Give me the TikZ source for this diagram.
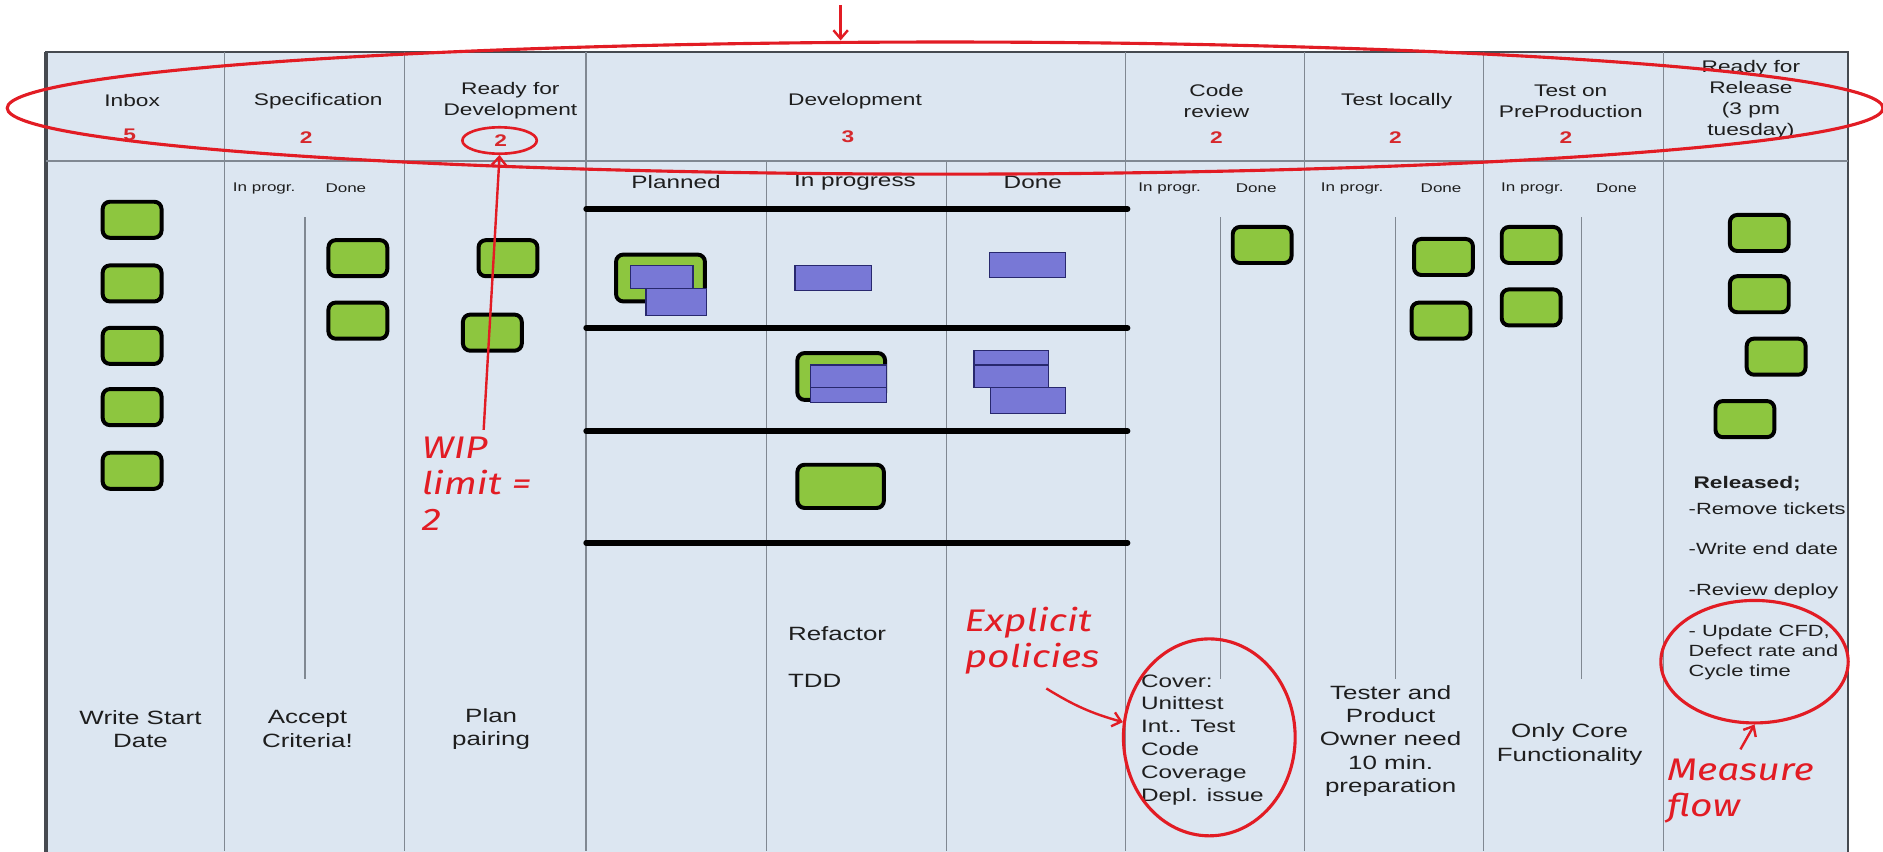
\documentclass[tikz,border=0pt]{standalone}
\usepackage{fontspec}
\setmainfont{Liberation Sans}[FakeStretch=1.35]
\newfontfamily\handfont{Fira Sans}[FakeStretch=1.25]
\usetikzlibrary{shapes.geometric,arrows.meta}
\definecolor{cardgreen}{RGB}{141,198,63}
\definecolor{stickyblue}{RGB}{120,120,214}
\definecolor{stickyedge}{RGB}{40,40,110}
\definecolor{boardblue}{RGB}{220,230,241}
\definecolor{boardedge}{RGB}{70,74,80}
\definecolor{gridgray}{RGB}{128,136,146}
\definecolor{notered}{RGB}{226,28,36}
\definecolor{wipred}{RGB}{214,40,44}
\definecolor{ink}{RGB}{30,30,30}
\tikzstyle{card}=[draw=black, line width=3.3pt, rounded corners=6pt, fill=cardgreen, minimum width=49pt, minimum height=30pt]
\tikzstyle{sticky}=[draw=stickyedge, line width=1pt, fill=stickyblue, inner sep=0pt]
\tikzstyle{grid}=[draw=gridgray, line width=1pt]
\tikzstyle{lane}=[draw=black, line width=4.5pt, line cap=round]
\tikzstyle{hdr}=[align=center, inner sep=0pt, text=ink, font=\fontsize{14}{17.5}\selectfont]
\tikzstyle{wip}=[inner sep=0pt, text=wipred, font=\fontsize{14}{16}\selectfont\bfseries]
\tikzstyle{sub}=[inner sep=0pt, text=ink, font=\fontsize{10.5}{13}\selectfont]
\tikzstyle{lanehdr}=[inner sep=0pt, text=ink, font=\fontsize{15}{17}\selectfont]
\tikzstyle{policy}=[align=center, inner sep=0pt, text=ink, font=\fontsize{16}{19.5}\selectfont]
\tikzstyle{release}=[align=left, inner sep=0pt, text=ink, font=\fontsize{13.5}{16.5}\selectfont]
\tikzstyle{hand}=[align=left, inner sep=0pt, text=notered, font=\handfont\itshape\fontsize{26}{30}\selectfont]
\tikzstyle{ring}=[ellipse, draw=notered, line width=2.6pt]
\tikzstyle{note}=[draw=notered, line width=2pt, -{Straight Barb[length=7pt,width=12pt]}]

\begin{document}
\begin{tikzpicture}[x=1pt,y=-1pt]
  \useasboundingbox (0,0) rectangle (1568,709);
  %% The board
  \draw[fill=boardblue, draw=boardedge, line width=1.5pt] (38,43) rectangle (1539,715);
  \draw[draw=boardedge, line width=3.5pt] (38,43) -- (38,715);
  \draw[grid] (38,134) -- (1539,134);

  \draw[grid] (187,43) -- (187,709);
  \draw[grid] (337,43) -- (337,709);
  \draw[grid] (488,43) -- (488,709);
  \draw[grid] (937,43) -- (937,709);
  \draw[grid] (1086,43) -- (1086,709);
  \draw[grid] (1235,43) -- (1235,709);
  \draw[grid] (1385,43) -- (1385,709);

  \draw[grid] (638,134) -- (638,709);
  \draw[grid] (788,134) -- (788,709);

  \draw[grid] (254,181) -- (254,565);
  \draw[grid] (1016,181) -- (1016,565);
  \draw[grid] (1162,181) -- (1162,565);
  \draw[grid] (1317,181) -- (1317,565);

  \draw[lane] (488,174) -- (939,174);
  \draw[lane] (488,273) -- (939,273);
  \draw[lane] (488,359) -- (939,359);
  \draw[lane] (488,452) -- (939,452);

  %% Column headers
  \draw (110,84) node[hdr] (hInbox) {Inbox};
  \draw (265,84) node[hdr] (hSpec) {Specification};
  \draw (425,84) node[hdr] (hReady) {Ready for\\Development};
  \draw (712,84) node[hdr] (hDev) {Development};
  \draw (1013,84) node[hdr] (hCode) {Code\\review};
  \draw (1163,84) node[hdr] (hTest) {Test locally};
  \draw (1308,84) node[hdr] (hPre) {Test on\\PreProduction};
  \draw (1458,83) node[hdr] (hRel) {Ready for\\Release\\(3 pm\\tuesday)};

  \draw (108,112) node[wip] (nInbox) {5};
  \draw (255,115) node[wip] (nSpec) {2};
  \draw (417,117) node[wip] (nReady) {2};
  \draw (706,114) node[wip] (nDev) {3};
  \draw (1013,115) node[wip] (nCode) {2};
  \draw (1162,115) node[wip] (nTest) {2};
  \draw (1304,115) node[wip] (nPre) {2};

  \draw (220,157) node[sub] (sSpecA) {In progr.};
  \draw (288,157) node[sub] (sSpecB) {Done};
  \draw (974,157) node[sub] (sCodeA) {In progr.};
  \draw (1046,157) node[sub] (sCodeB) {Done};
  \draw (1126,157) node[sub] (sTestA) {In progr.};
  \draw (1200,157) node[sub] (sTestB) {Done};
  \draw (1276,157) node[sub] (sPreA) {In progr.};
  \draw (1346,157) node[sub] (sPreB) {Done};

  \draw (563,152) node[lanehdr] (lPlan) {Planned};
  \draw (712,152) node[lanehdr] (lProg) {In progress};
  \draw (860,152) node[lanehdr] (lDone) {Done};

  %% Tickets
  \draw (110,183) node[card] (I1) {};
  \draw (110,236) node[card] (I2) {};
  \draw (110,288) node[card] (I3) {};
  \draw (110,339) node[card] (I4) {};
  \draw (110,392) node[card] (I5) {};

  \draw (298,215) node[card] (S1) {};
  \draw (298,267) node[card] (S2) {};

  \draw (423,215) node[card] (R1) {};
  \draw (410,277) node[card] (R2) {};

  \draw (550,231.5) node[card, minimum width=74pt, minimum height=39pt] (D11) {};
  \draw (551,230.5) node[sticky, minimum width=52pt, minimum height=19pt] (D11a) {};
  \draw (563,251.5) node[sticky, minimum width=50pt, minimum height=23pt] (D11b) {};
  \draw (694,231.5) node[sticky, minimum width=64pt, minimum height=21pt] (D12) {};
  \draw (855.5,220.5) node[sticky, minimum width=63pt, minimum height=21pt] (D13) {};

  \draw (700.5,313.5) node[card, minimum width=73pt, minimum height=39pt] (D22) {};
  \draw (706.5,313.5) node[sticky, minimum width=63pt, minimum height=19pt] (D22a) {};
  \draw (706.5,329) node[sticky, minimum width=63pt, minimum height=12pt] (D22b) {};
  \draw (842,298) node[sticky, minimum width=62pt, minimum height=12pt] (D23a) {};
  \draw (842,313.5) node[sticky, minimum width=62pt, minimum height=19pt] (D23b) {};
  \draw (856,333.5) node[sticky, minimum width=62pt, minimum height=21pt] (D23c) {};

  \draw (700,405) node[card, minimum width=72pt, minimum height=36pt] (D32) {};

  \draw (1051,204) node[card] (C1) {};
  \draw (1202,214) node[card] (T1) {};
  \draw (1200,267) node[card] (T2) {};
  \draw (1275,204) node[card] (P1) {};
  \draw (1275,256) node[card] (P2) {};

  \draw (1465,194) node[card] (L1) {};
  \draw (1465,245) node[card] (L2) {};
  \draw (1479,297) node[card] (L3) {};
  \draw (1453,349) node[card] (L4) {};

  %% Policies
  \draw (117,607) node[policy] (pInbox) {Write Start\\Date};
  \draw (256,607) node[policy] (pSpec) {Accept\\Criteria!};
  \draw (409,607) node[policy] (pReady) {Plan\\pairing};
  \draw (656,528) node[policy, anchor=west] (pRefactor) {Refactor};
  \draw (656,567) node[policy, anchor=west] (pTdd) {TDD};
  \draw (950,616) node[policy, align=left, anchor=west, font=\fontsize{15}{19}\selectfont] (pCode) {Cover:\\Unittest\\Int.. Test\\Code\\Coverage\\Depl. issue};
  \draw (1158,617) node[policy] (pTest) {Tester and\\Product\\Owner need\\10 min.\\preparation};
  \draw (1307,620) node[policy] (pPre) {Only Core\\Functionality};

  \draw (1410,403) node[release, anchor=west, font=\fontsize{14}{16}\selectfont\bfseries] (rTitle) {Released;};
  \draw (1406,424) node[release, anchor=west] (r1) {-Remove tickets};
  \draw (1406,457) node[release, anchor=west] (r2) {-Write end date};
  \draw (1406,492) node[release, anchor=west] (r3) {-Review deploy};
  \draw (1406,543) node[release, anchor=west] (r4) {- Update CFD,\\Defect rate and\\Cycle time};

  %% Red notes
  \draw (787,90) node[ring, minimum width=1562pt, minimum height=110pt] (hdrring) {};
  \draw (416,117) node[ring, line width=2.2pt, minimum width=62pt, minimum height=22pt] (wipring) {};
  \draw (1007,614) node[ring, minimum width=143pt, minimum height=164pt] (coverring) {};
  \draw (1461,551) node[ring, minimum width=156pt, minimum height=102pt] (updring) {};

  \draw (351,364) node[hand, anchor=north west] (wipnote) {WIP\\limit =\\2};
  \draw (803,505) node[hand, anchor=north west] (policynote) {Explicit\\policies};
  \draw (1388,632) node[hand, anchor=north west] (flownote) {Measure\\flow};

  \coordinate (topnote) at (700,4);
  \draw[note] (topnote) -- (topnote |- hdrring.north);
  \draw[note] ([xshift=6pt,yshift=6pt]wipnote.north) -- (wipring.south);
  \draw[note] ([shift={(12,12)}]policynote.south) to[bend right=8] (coverring.170);
  \draw[note] ([yshift=8pt]flownote.north) -- (updring.south);
\end{tikzpicture}
\end{document}
